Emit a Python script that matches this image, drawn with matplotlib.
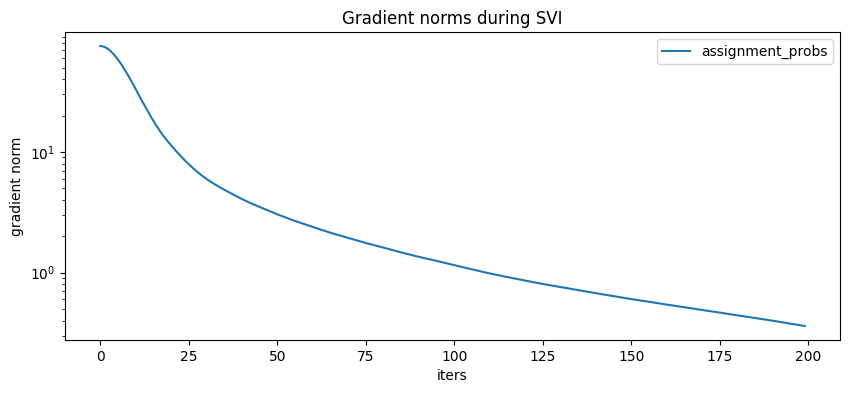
import matplotlib
matplotlib.use("Agg")
import matplotlib.pyplot as plt

# values (iteration, gradient norm)
iters = list(range(0, 35)) + [36, 38, 40, 42, 45, 50, 55, 60, 65, 70, 75,
                              80, 85, 90, 95, 100, 105, 110, 115, 120, 125,
                              130, 135, 140, 145, 150, 155, 160, 165, 170,
                              175, 180, 185, 190, 195, 199]
norms = [75.5, 74.6, 72.1, 68.2, 63.5, 58.3, 53.0, 47.5, 42.4, 37.6,
         33.2, 29.2, 25.8, 22.9, 20.3, 18.1, 16.3, 14.7, 13.4, 12.3,
         11.35, 10.5, 9.73, 9.06, 8.45, 7.91, 7.43, 7.00, 6.61, 6.28,
         5.98, 5.71, 5.47, 5.25, 5.05,
         4.69, 4.37, 4.07, 3.82, 3.50, 3.04, 2.68, 2.39, 2.14, 1.94, 1.76,
         1.61, 1.47, 1.35, 1.25, 1.153, 1.064, 0.984, 0.918, 0.859, 0.805,
         0.759, 0.716, 0.675, 0.638, 0.603, 0.573, 0.543, 0.516, 0.490,
         0.466, 0.442, 0.420, 0.399, 0.377, 0.361]

fig = plt.figure(figsize=(8.49, 3.93), dpi=100)
ax = fig.add_axes([0.0766, 0.1349, 0.9128, 0.7837])
ax.plot(iters, norms, label="assignment_probs")
ax.set_yscale("log")
ax.set_title("Gradient norms during SVI")
ax.set_xlabel("iters")
ax.set_ylabel("gradient norm")
ax.legend(loc="upper right")
fig.savefig("out.png", dpi=100)
